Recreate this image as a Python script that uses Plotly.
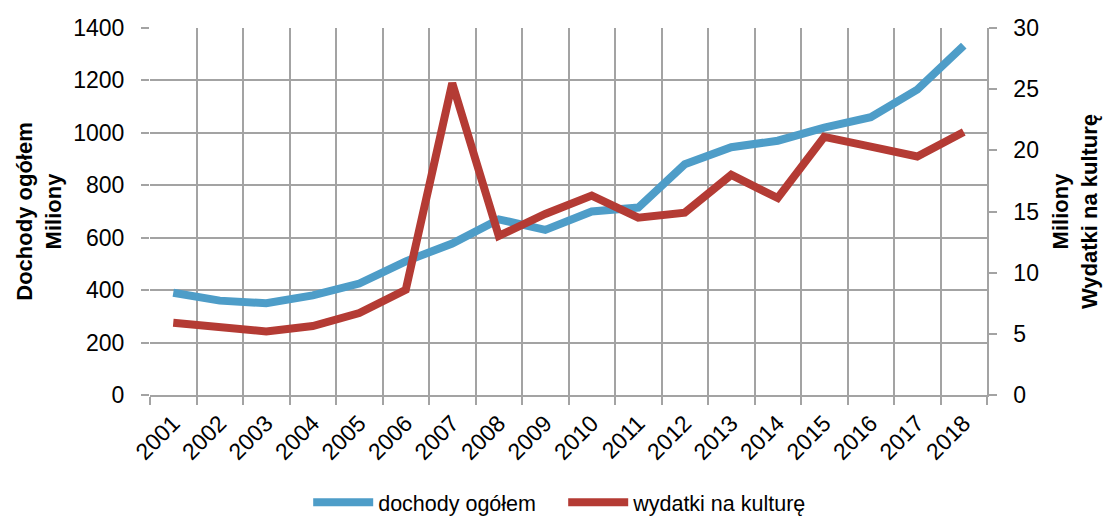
import plotly.graph_objects as go

years = [str(y) for y in range(2001, 2019)]
dochody = [390, 360, 350, 380, 425, 510, 578, 670, 630, 700, 715, 880, 945, 970, 1020, 1060, 1165, 1333]
wydatki = [5.9, 5.5, 5.2, 5.64, 6.7, 8.6, 25.5, 13.0, 14.8, 16.3, 14.5, 14.9, 18.0, 16.1, 21.1, 20.3, 19.5, 21.5]

left_ticks = list(range(0, 1401, 200))
right_ticks = list(range(0, 31, 5))

FONT = "Liberation Sans, Arial, sans-serif"
BLUE = "#4E9DC8"
RED = "#B43B34"
GRID = "#A3A3A3"

fig = go.Figure()
fig.add_trace(go.Scatter(x=years, y=dochody, name="dochody ogółem", mode="lines",
                         line=dict(color=BLUE, width=8), yaxis="y"))
fig.add_trace(go.Scatter(x=years, y=wydatki, name="wydatki na kulturę", mode="lines",
                         line=dict(color=RED, width=8), yaxis="y2"))

fig.update_layout(
    width=1112, height=516,
    margin=dict(l=150, r=125, t=28, b=121, autoexpand=False),
    paper_bgcolor="white", plot_bgcolor="white",
    font=dict(family=FONT, size=23, color="black"),
    showlegend=True,
    legend=dict(orientation="h", x=0.189, xanchor="left", y=-0.292, yanchor="middle",
                font=dict(family=FONT, size=21.5, color="black"), itemwidth=60,
                entrywidth=180, entrywidthmode="pixels"),
    xaxis=dict(type="category", tickson="boundaries", range=[-0.5, 17.5],
               showgrid=True, gridcolor=GRID, gridwidth=1.5,
               ticks="outside", ticklen=8, tickcolor=GRID, tickwidth=1.5, tickangle=-45,
               showline=True, linecolor=GRID, linewidth=1.5, zeroline=False, automargin=False,
               ticklabelstandoff=4,
               tickfont=dict(family=FONT, size=23)),
    yaxis=dict(range=[0, 1400], tickvals=left_ticks, showgrid=True, gridcolor=GRID, gridwidth=1.5,
               ticks="outside", ticklen=8, tickcolor=GRID, tickwidth=1.5, zeroline=False,
               showline=False, automargin=False, ticklabelstandoff=12,
               tickfont=dict(family=FONT, size=23),
               title=dict(text="<b>Dochody ogółem<br>Miliony</b>", font=dict(family=FONT, size=22), standoff=5)),
    yaxis2=dict(range=[0, 30], tickvals=right_ticks, overlaying="y", side="right", showgrid=False,
                ticks="outside", ticklen=8, tickcolor=GRID, tickwidth=1.5, zeroline=False,
                showline=True, linecolor=GRID, linewidth=1.5, automargin=False, ticklabelstandoff=12,
                tickfont=dict(family=FONT, size=23),
                title=dict(text="<b>Miliony<br>Wydatki na kulturę</b>", font=dict(family=FONT, size=22), standoff=15)),
)

fig.write_html("out.html", config={"displayModeBar": False},
               post_script="document.body.style.margin='0';document.body.style.overflow='hidden';")
